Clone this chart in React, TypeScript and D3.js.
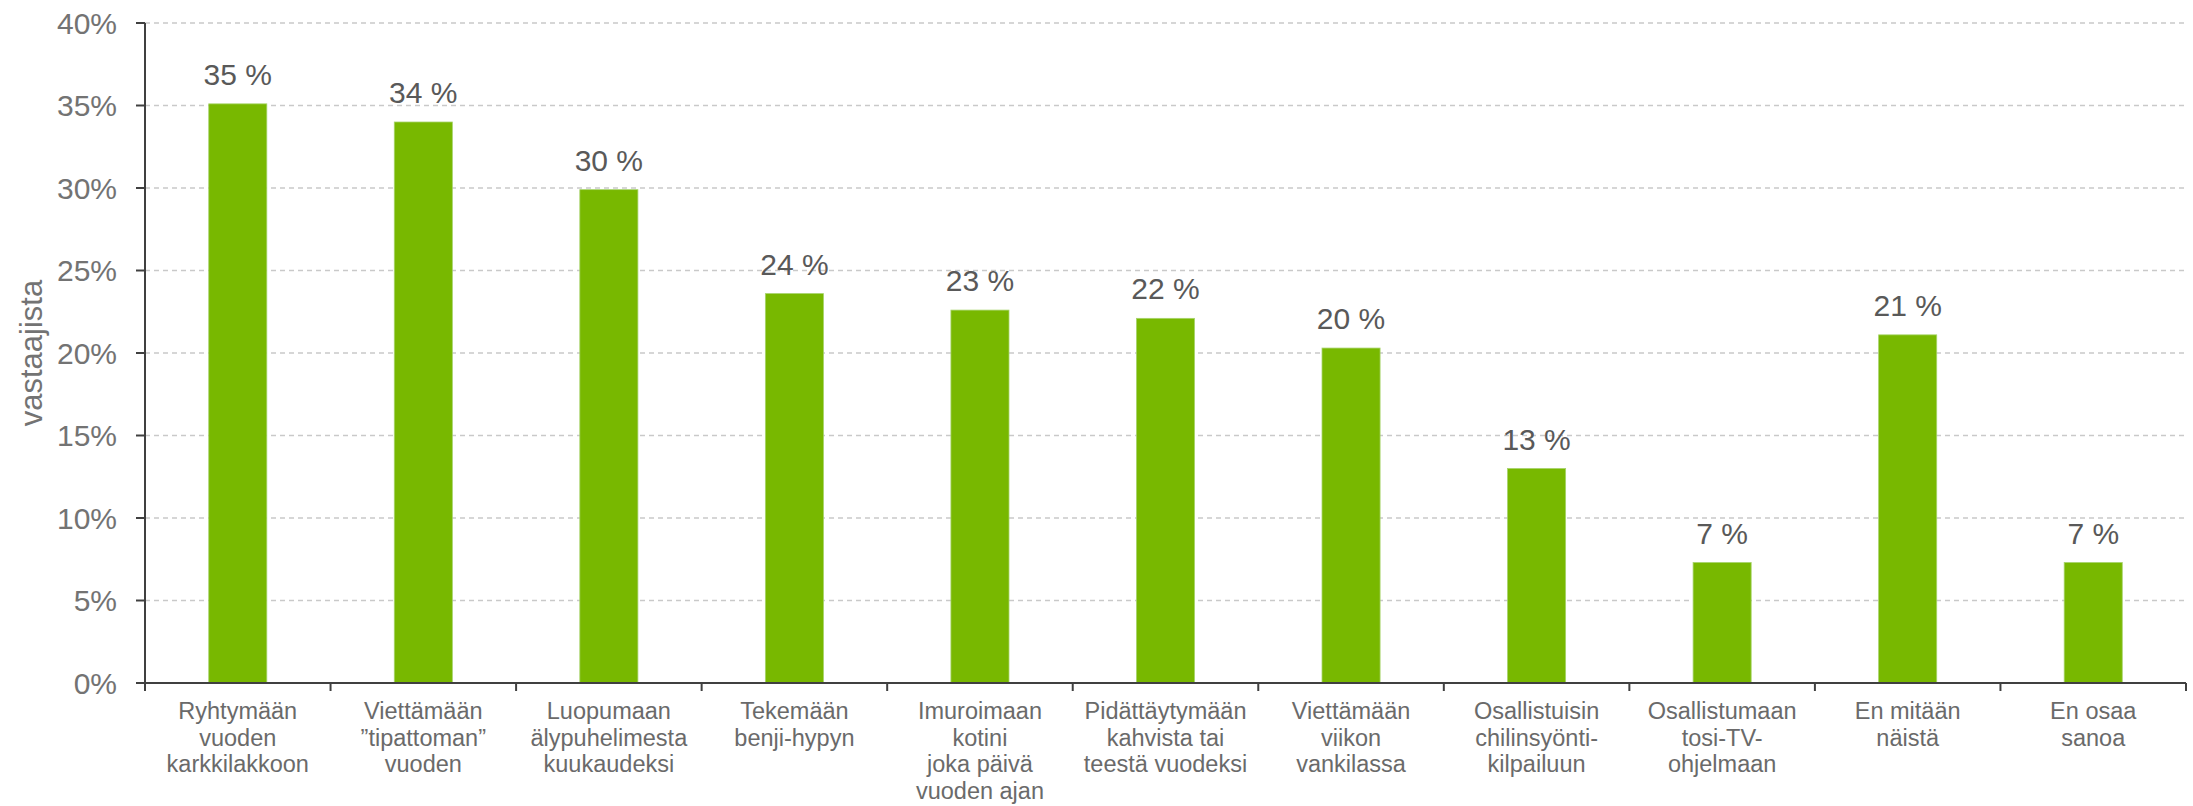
import { useEffect, useRef } from 'react'
import * as d3 from 'd3'

// Survey answers: share of respondents (%)
const categories = [
  ['Ryhtymään', 'vuoden', 'karkkilakkoon'],
  ['Viettämään', '”tipattoman”', 'vuoden'],
  ['Luopumaan', 'älypuhelimesta', 'kuukaudeksi'],
  ['Tekemään', 'benji-hypyn'],
  ['Imuroimaan', 'kotini', 'joka päivä', 'vuoden ajan'],
  ['Pidättäytymään', 'kahvista tai', 'teestä vuodeksi'],
  ['Viettämään', 'viikon', 'vankilassa'],
  ['Osallistuisin', 'chilinsyönti-', 'kilpailuun'],
  ['Osallistumaan', 'tosi-TV-', 'ohjelmaan'],
  ['En mitään', 'näistä'],
  ['En osaa', 'sanoa'],
]
const values = [35.1, 34.0, 29.9, 23.6, 22.6, 22.1, 20.3, 13.0, 7.3, 21.1, 7.3]
const labels = ['35 %', '34 %', '30 %', '24 %', '23 %', '22 %', '20 %', '13 %', '7 %', '21 %', '7 %']
const yTicks = [0, 5, 10, 15, 20, 25, 30, 35, 40]
const yTitle = 'vastaajista'

const W = 2193
const H = 806
const MARGIN = { top: 23, right: 7, bottom: 123, left: 145 }
const FONT = '"Liberation Sans", Arial, sans-serif'
const GREEN = '#78b800'

export default function App() {
  const svgRef = useRef<SVGSVGElement>(null)

  useEffect(() => {
    if (!svgRef.current) return
    const svg = d3.select(svgRef.current)
    svg.selectAll('*').remove()

    const innerW = W - MARGIN.left - MARGIN.right
    const innerH = H - MARGIN.top - MARGIN.bottom
    const g = svg.append('g').attr('transform', `translate(${MARGIN.left},${MARGIN.top})`)

    const idx = categories.map((_, i) => String(i))
    const x = d3.scaleBand().domain(idx).range([0, innerW]).padding(0)
    const y = d3.scaleLinear().domain([0, 40]).range([innerH, 0])
    const barW = x.bandwidth() * 0.313

    // Gridlines
    g.selectAll('.grid').data(yTicks.filter(t => t > 0)).join('line')
      .attr('x1', 0).attr('x2', innerW)
      .attr('y1', d => y(d)).attr('y2', d => y(d))
      .attr('stroke', '#c9c9c9').attr('stroke-width', 1.6).attr('stroke-dasharray', '5,4')

    // Bars
    g.selectAll('.bar').data(values).join('rect')
      .attr('x', (_, i) => x(String(i))! + x.bandwidth() / 2 - barW / 2)
      .attr('y', d => y(d))
      .attr('width', barW)
      .attr('height', d => innerH - y(d))
      .attr('fill', GREEN)
      .attr('stroke', '#a6d36a').attr('stroke-width', 0.8)

    // Value labels
    g.selectAll('.val').data(values).join('text')
      .attr('x', (_, i) => x(String(i))! + x.bandwidth() / 2)
      .attr('y', d => y(d) - 19)
      .attr('text-anchor', 'middle')
      .attr('font-family', FONT).attr('font-size', 30)
      .attr('fill', '#595959')
      .text((_, i) => labels[i])

    // Y axis
    g.append('line')
      .attr('x1', 0).attr('x2', 0).attr('y1', 0).attr('y2', innerH)
      .attr('stroke', '#404040').attr('stroke-width', 2)
    g.selectAll('.ytick').data(yTicks).join('line')
      .attr('x1', -9).attr('x2', 0)
      .attr('y1', d => y(d)).attr('y2', d => y(d))
      .attr('stroke', '#404040').attr('stroke-width', 2)
    g.selectAll('.ylab').data(yTicks).join('text')
      .attr('x', -28).attr('y', d => y(d))
      .attr('dy', '0.35em')
      .attr('text-anchor', 'end')
      .attr('font-family', FONT).attr('font-size', 30)
      .attr('fill', '#737373')
      .text(d => `${d}%`)

    // Y title
    g.append('text')
      .attr('transform', `translate(${-103},${innerH / 2}) rotate(-90)`)
      .attr('text-anchor', 'middle')
      .attr('font-family', FONT).attr('font-size', 31)
      .attr('fill', '#737373')
      .text(yTitle)

    // X axis
    g.append('line')
      .attr('x1', 0).attr('x2', innerW).attr('y1', innerH).attr('y2', innerH)
      .attr('stroke', '#404040').attr('stroke-width', 2)
    const bounds = [...idx.map(i => x(i)!), innerW]
    g.selectAll('.xtick').data(bounds).join('line')
      .attr('x1', d => d).attr('x2', d => d)
      .attr('y1', innerH).attr('y2', innerH + 8)
      .attr('stroke', '#404040').attr('stroke-width', 2)

    // Category labels
    const cat = g.selectAll('.cat').data(categories).join('text')
      .attr('text-anchor', 'middle')
      .attr('font-family', FONT).attr('font-size', 23.5)
      .attr('fill', '#6a6a6a')
    cat.selectAll('tspan').data(d => d).join('tspan')
      .attr('x', function () {
        const i = categories.indexOf(d3.select(this.parentNode as SVGTextElement).datum() as string[])
        return x(String(i))! + x.bandwidth() / 2
      })
      .attr('y', (_, j) => innerH + 36 + j * 26.7)
      .text(d => d)
  }, [])

  return (
    <svg ref={svgRef} width={W} height={H}
      style={{ position: 'absolute', left: 0, top: 0, display: 'block', background: '#fff' }} />
  )
}
